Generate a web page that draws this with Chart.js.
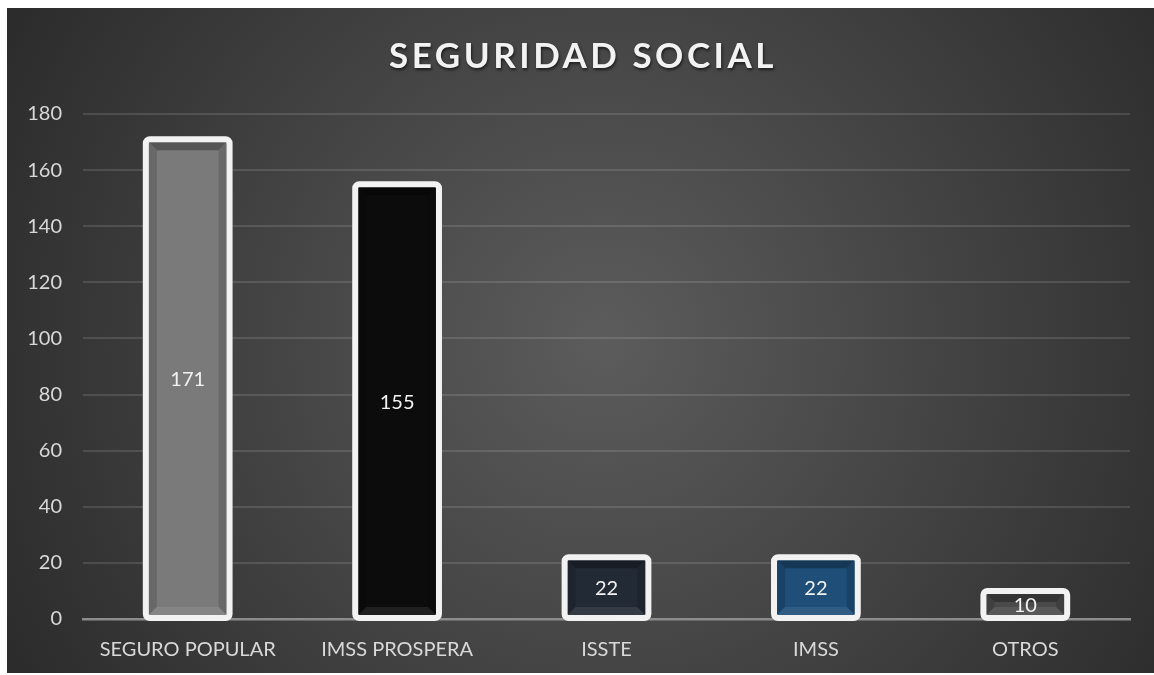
<!DOCTYPE html>
<html>
<head>
<meta charset="utf-8">
<script src="https://cdn.jsdelivr.net/npm/chart.js@4.4.1/dist/chart.umd.min.js"></script>
<style>
  html, body { margin: 0; padding: 0; background: #ffffff; }
  #wrap { position: absolute; left: 7px; top: 8px; width: 1147px; height: 665px; }
</style>
</head>
<body>
<div id="wrap"><canvas id="c"></canvas></div>
<script>
  // datos del gráfico
  const TITLE = "SEGURIDAD SOCIAL";
  const categories = ["SEGURO POPULAR", "IMSS PROSPERA", "ISSTE", "IMSS", "OTROS"];
  const values = [171, 155, 22, 22, 10];
  const barColors = ["#7a7a7a", "#0c0c0c", "#222a35", "#1f4e79", "#4a4a4a"];
  const yTicks = [0, 20, 40, 60, 80, 100, 120, 140, 160, 180];

  const FONT = "Lato, 'Open Sans', sans-serif";
  const TXT = "#d9d9d9";

  function shade(hex, f) {
    const n = parseInt(hex.slice(1), 16);
    let r = (n >> 16) & 255, g = (n >> 8) & 255, b = n & 255;
    if (f < 0) { r *= 1 + f; g *= 1 + f; b *= 1 + f; }
    else { r += (255 - r) * f; g += (255 - g) * f; b += (255 - b) * f; }
    return "rgb(" + Math.round(r) + "," + Math.round(g) + "," + Math.round(b) + ")";
  }

  function roundRect(ctx, x, y, w, h, r) {
    ctx.beginPath();
    ctx.moveTo(x + r, y);
    ctx.lineTo(x + w - r, y);
    ctx.arcTo(x + w, y, x + w, y + r, r);
    ctx.lineTo(x + w, y + h - r);
    ctx.arcTo(x + w, y + h, x + w - r, y + h, r);
    ctx.lineTo(x + r, y + h);
    ctx.arcTo(x, y + h, x, y + h - r, r);
    ctx.lineTo(x, y + r);
    ctx.arcTo(x, y, x + r, y, r);
    ctx.closePath();
  }

  const backdrop = {
    id: "backdrop",
    beforeDraw(chart) {
      const { ctx, width, height } = chart;
      const g = ctx.createRadialGradient(width * 0.52, height * 0.5, 0, width * 0.52, height * 0.5, width * 0.62);
      g.addColorStop(0, "#5c5c5c");
      g.addColorStop(1, "#292929");
      ctx.save();
      ctx.fillStyle = g;
      ctx.fillRect(0, 0, width, height);
      ctx.restore();
    },
  };

  const bevelBars = {
    id: "bevelBars",
    afterDatasetsDraw(chart) {
      const ctx = chart.ctx;
      const meta = chart.getDatasetMeta(0);
      ctx.save();
      meta.data.forEach((bar, i) => {
        const w = bar.width;
        const x0 = bar.x - w / 2, x1 = bar.x + w / 2;
        const y0 = bar.y, y1 = bar.base;
        const c = barColors[i];
        const ix0 = x0 + 3, ix1 = x1 - 3, iy0 = y0 + 3, iy1 = y1 - 3;
        const bw = Math.min(8, (iy1 - iy0) / 2);
        // bisel: arriba, izquierda, derecha, abajo
        const sides = [
          [[ix0, iy0], [ix1, iy0], [ix1 - bw, iy0 + bw], [ix0 + bw, iy0 + bw], shade(c, -0.3)],
          [[ix0, iy0], [ix0 + bw, iy0 + bw], [ix0 + bw, iy1 - bw], [ix0, iy1], shade(c, -0.15)],
          [[ix1, iy0], [ix1 - bw, iy0 + bw], [ix1 - bw, iy1 - bw], [ix1, iy1], shade(c, -0.15)],
          [[ix0, iy1], [ix0 + bw, iy1 - bw], [ix1 - bw, iy1 - bw], [ix1, iy1], shade(c, 0.08)],
        ];
        sides.forEach((s) => {
          ctx.beginPath();
          ctx.moveTo(s[0][0], s[0][1]);
          for (let k = 1; k < 4; k++) ctx.lineTo(s[k][0], s[k][1]);
          ctx.closePath();
          ctx.fillStyle = s[4];
          ctx.fill();
        });
        // marco blanco
        ctx.lineWidth = 6;
        ctx.strokeStyle = "#f2f2f2";
        roundRect(ctx, x0, y0, w, y1 - y0, 4);
        ctx.stroke();
        // etiqueta
        ctx.fillStyle = "#f2f2f2";
        ctx.font = "20px " + FONT;
        ctx.textAlign = "center";
        ctx.textBaseline = "middle";
        ctx.fillText(String(values[i]), bar.x, (y0 + y1) / 2 + 1);
      });
      ctx.restore();
    },
  };

  const titlePlugin = {
    id: "titleText",
    afterDraw(chart) {
      const ctx = chart.ctx;
      ctx.save();
      ctx.font = "bold 35px " + FONT;
      ctx.letterSpacing = "3.5px";
      ctx.textAlign = "center";
      ctx.textBaseline = "middle";
      ctx.shadowColor = "rgba(0,0,0,0.6)";
      ctx.shadowOffsetX = 1;
      ctx.shadowOffsetY = 2;
      ctx.shadowBlur = 3;
      ctx.fillStyle = "#f2f2f2";
      ctx.fillText(TITLE, 576, 49);
      ctx.restore();
    },
  };

  new Chart(document.getElementById("c"), {
    type: "bar",
    data: {
      labels: categories,
      datasets: [{
        data: values,
        backgroundColor: barColors,
        borderWidth: 0,
        categoryPercentage: 1,
        barPercentage: 0.4,
      }],
    },
    options: {
      responsive: true,
      maintainAspectRatio: false,
      animation: false,
      layout: { padding: { top: 106, right: 24, bottom: 0, left: 0 } },
      plugins: {
        legend: { display: false },
        tooltip: { enabled: false },
        title: { display: false },
      },
      scales: {
        x: {
          grid: { display: false, drawTicks: false },
          border: { display: true, color: "#8c8c8c", width: 2.5 },
          ticks: { color: TXT, font: { family: FONT, size: 20 }, padding: 19 },
          afterFit(scale) { scale.height = 54; },
        },
        y: {
          min: 0,
          max: 180,
          afterBuildTicks(scale) { scale.ticks = yTicks.map((v) => ({ value: v })); },
          grid: { color: "rgba(255,255,255,0.12)", lineWidth: 2, drawTicks: false },
          border: { display: false },
          ticks: { color: TXT, font: { family: FONT, size: 20 }, padding: 21 },
          afterFit(scale) { scale.width = 76; },
        },
      },
    },
    plugins: [backdrop, bevelBars, titlePlugin],
  });
</script>
</body>
</html>
